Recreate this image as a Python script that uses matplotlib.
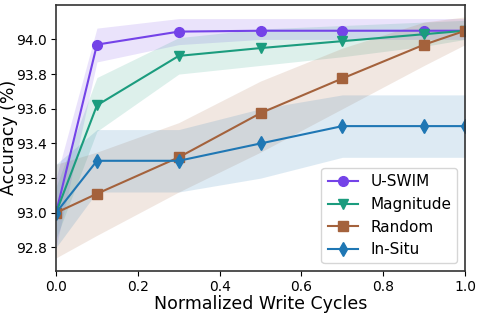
import matplotlib
matplotlib.use('Agg')
import matplotlib.pyplot as plt
import numpy as np

x = [0.0, 0.1, 0.3, 0.5, 0.7, 0.9, 1.0]

uswim = [93.0, 93.97, 94.045, 94.05, 94.05, 94.05, 94.05]
uswim_lo = [92.8, 93.87, 93.97, 94.0, 94.0, 94.0, 94.0]
uswim_hi = [93.2, 94.065, 94.12, 94.12, 94.12, 94.12, 94.12]

magnitude = [93.0, 93.62, 93.905, 93.95, 93.99, 94.03, 94.05]
magnitude_lo = [92.85, 93.47, 93.8, 93.85, 93.9, 93.96, 94.0]
magnitude_hi = [93.15, 93.78, 94.01, 94.06, 94.08, 94.1, 94.11]

random_ = [93.0, 93.11, 93.32, 93.575, 93.775, 93.97, 94.05]
random_lo = [92.74, 92.87, 93.12, 93.35, 93.6, 93.85, 93.97]
random_hi = [93.28, 93.35, 93.52, 93.76, 93.95, 94.1, 94.13]

insitu = [93.0, 93.3, 93.3, 93.4, 93.5, 93.5, 93.5]
insitu_lo = [92.8, 93.12, 93.12, 93.2, 93.32, 93.32, 93.32]
insitu_hi = [93.28, 93.48, 93.48, 93.6, 93.68, 93.68, 93.68]

series = [
    ("U-SWIM", uswim, uswim_lo, uswim_hi, "#7443e8", "o"),
    ("Magnitude", magnitude, magnitude_lo, magnitude_hi, "#1b9c7e", "v"),
    ("Random", random_, random_lo, random_hi, "#a4623c", "s"),
    ("In-Situ", insitu, insitu_lo, insitu_hi, "#1f77b4", "d"),
]

fig = plt.figure(figsize=(4.79, 3.15), dpi=100)
ax = fig.add_axes([0.117, 0.14, 0.854, 0.845])

for name, y, lo, hi, c, m in series:
    ax.fill_between(x, lo, hi, color=c, alpha=0.15, linewidth=0)
    ax.plot(x, y, color=c, marker=m, markersize=7, linewidth=1.5, label=name)

ax.set_xlim(0, 1.0)
ax.set_ylim(92.665, 94.2)
ax.set_yticks([92.8, 93.0, 93.2, 93.4, 93.6, 93.8, 94.0])
ax.tick_params(labelsize=10, pad=3)
ax.set_xlabel("Normalized Write Cycles", fontsize=12.5, labelpad=1)
ax.set_ylabel("Accuracy (%)", fontsize=12.5)
ax.yaxis.set_label_coords(-0.093, 0.5)
for s in ax.spines.values():
    s.set_color("#333333")
    s.set_linewidth(1.2)

ax.legend(loc="lower right", fontsize=11)

fig.savefig("out.png", dpi=100)
